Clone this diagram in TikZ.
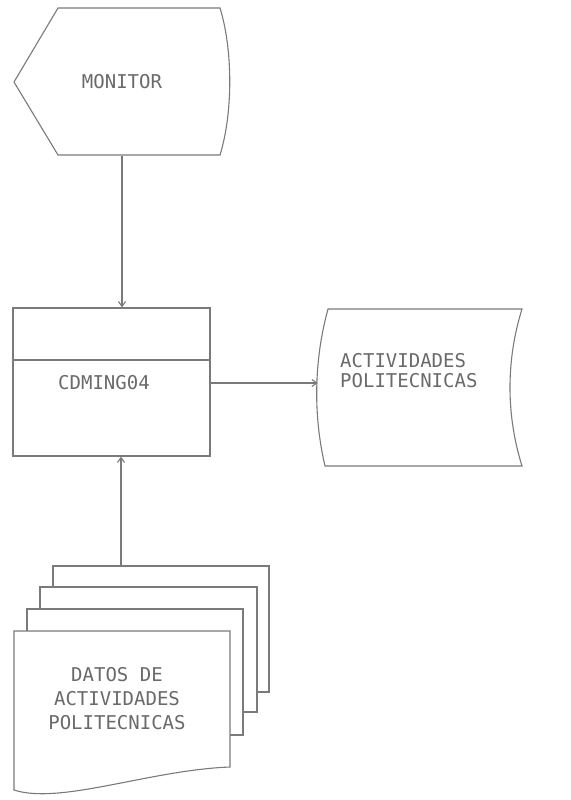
\documentclass[tikz,border=0pt]{standalone}
\usepackage{fontspec}
\setmonofont{DejaVu Sans Mono}
\usetikzlibrary{arrows.meta}
\definecolor{ScanLine}{HTML}{7A7A7A}
\definecolor{ScanText}{HTML}{6A6A6A}

\begin{document}
\begin{tikzpicture}[x=1pt,y=-1pt,>={Straight Barb[length=5pt,width=7pt]}]
  \tikzstyle{outline}=[draw=ScanLine,line width=1.1pt,fill=white]
  \tikzstyle{boxtext}=[text=ScanText,inner sep=0pt,
    font=\ttfamily\fontsize{19}{20}\selectfont]
  \tikzstyle{flow}=[->,draw=ScanLine,line width=1.1pt]
  \useasboundingbox (0,0) rectangle (570,800);
  % monitor
  \draw[outline] (14,82) -- (58,8) -- (220,8)
    .. controls (233,50) and (233,113) .. (220,155) -- (58,155) -- cycle;
  \node[boxtext,minimum width=216pt,minimum height=147pt] (monitor) at (122,82) {MONITOR};
  % program
  \node[outline,minimum width=197pt,minimum height=148pt] (proc) at (111.5,382) {};
  \draw[draw=ScanLine,line width=1.1pt] (proc.west |- 0,360) -- (proc.east |- 0,360);
  \node[boxtext] (procname) at (104,383) {CDMING04};
  % stored output
  \draw[outline] (328,309) -- (522,309)
    .. controls (506,360) and (506,415) .. (522,466) -- (325,466)
    .. controls (313,415) and (314,360) .. cycle;
  \node[inner sep=0pt,minimum width=204pt,minimum height=157pt] (store) at (420,387.5) {};
  \node[boxtext,anchor=west,align=left] (storetext) at (340,371) {ACTIVIDADES\\POLITECNICAS};
  % input documents
  \draw[outline] (53,566) rectangle (269,692);
  \draw[outline] (40,587) rectangle (257,712);
  \draw[outline] (27,609) rectangle (243,735);
  \draw[outline] (14,631) -- (230,631) -- (230,767)
    .. controls (150,770) and (60,805) .. (14,790) -- cycle;
  \coordinate (dtop) at (121,566);
  \node[boxtext,align=center,font=\ttfamily\fontsize{19}{24}\selectfont] (docs) at (117,699)
    {DATOS DE\\ACTIVIDADES\\POLITECNICAS};
  % connectors
  \draw[flow] (monitor.south) -- (monitor.south |- proc.north);
  \draw[flow] (proc.east |- procname) -- (procname -| store.west);
  \draw[flow] (dtop) -- (dtop |- proc.south);
\end{tikzpicture}
\end{document}
